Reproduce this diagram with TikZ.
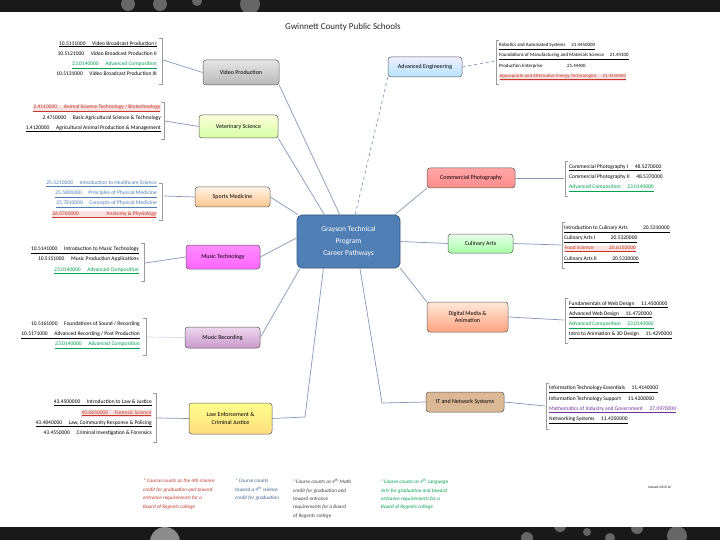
\documentclass[tikz,border=0pt]{standalone}
\usepackage{fontspec}
\setmainfont{Carlito}
\definecolor{lnk}{HTML}{8498B6}
\definecolor{brkc}{HTML}{9A9A9A}
\definecolor{cred}{HTML}{C0392B}
\definecolor{cgreen}{HTML}{00A050}
\definecolor{cblue}{HTML}{4F7FB5}
\definecolor{cpurple}{HTML}{7030A0}
\definecolor{cfoot}{HTML}{404040}
\definecolor{hlred}{HTML}{FBE0E0}
\setlength{\fboxsep}{0.4pt}
\newcommand\myul[1]{\underline{#1}}
\newcommand\rul[1]{{\color{cred}\colorbox{hlred}{\underline{#1}}}}
\newcommand\gul[1]{{\color{cgreen}\underline{#1}}}
\newcommand\bul[1]{{\color{cblue}\underline{#1}}}
\newcommand\pul[1]{{\color{cpurple}\underline{#1}}}
\newcommand\gp{\hspace{1.2em}}
\tikzset{
  box/.style={rounded corners=3pt, draw=black!65, line width=0.5pt,
    font=\fontsize{6}{7.5}\selectfont, align=center, inner sep=1pt},
  item/.style={font=\fontsize{5.5}{10.2}\selectfont, inner sep=0pt},
  lefti/.style={item, align=right, anchor=east},
  righti/.style={item, align=left, anchor=west},
  link/.style={draw=lnk, line width=0.7pt},
  brk/.style={draw=brkc, line width=0.5pt},
  foot/.style={font=\fontsize{5.2}{8.4}\selectfont\itshape, align=left, anchor=north west, inner sep=0pt},
  dot/.style={fill=black!60, draw=none}
}
\begin{document}
\begin{tikzpicture}[x=1pt,y=-1pt]
\useasboundingbox (0,0) rectangle (720,540);
\fill[white] (0,0) rectangle (720,540);
% top and bottom bands
\fill[black!90] (0,0) rectangle (720,12);
\fill[black!90] (0,527) rectangle (720,540);
\begin{scope}
\clip (0,0) rectangle (720,12);
\fill[dot] (128,4) circle (7);
\fill[dot] (160,4) circle (7);
\fill[dot] (197,1) circle (5);
\fill[dot] (250,4) circle (10);
\end{scope}
\begin{scope}
\clip (0,527) rectangle (720,540);
\fill[black!45] (165,542) circle (15);
\fill[dot] (527,538) circle (6);
\fill[dot] (560,526) circle (6);
\fill[dot] (587,532) circle (4);
\fill[dot] (610,538) circle (5);
\fill[dot] (637,528) circle (6);
\fill[dot] (677,536) circle (10);
\end{scope}

% title
\node[font=\fontsize{9}{10}\selectfont, text=black!85] (title) at (343,27) {Gwinnett County Public Schools};

% central node
\node[rounded corners=5pt, fill=cblue, draw=cblue!70!black, line width=0.7pt,
  minimum width=103pt, minimum height=53pt, text=white, align=center,
  font=\fontsize{7.5}{12}\selectfont] (center) at (348.5,241.5)
  {Grayson Technical\\Program\\Career Pathways};

% branch nodes
\node[box, top color=gray!20, bottom color=gray!55, minimum width=76pt, minimum height=25pt] (video) at (241,72.5) {Video Production};
\node[box, top color=green!10!yellow!15, bottom color=green!45!yellow!35, minimum width=79pt, minimum height=23pt] (vet) at (238.5,126.5) {Veterinary Science};
\node[box, top color=blue!6, bottom color=blue!35!cyan!30, minimum width=74pt, minimum height=20pt] (adveng) at (425,67) {Advanced Engineering};
\node[box, top color=orange!10, bottom color=orange!45, minimum width=75pt, minimum height=20pt] (sports) at (232.5,197) {Sports Medicine};
\node[box, top color=magenta!45, bottom color=magenta!60, minimum width=74pt, minimum height=24pt] (musictech) at (223,257) {Music Technology};
\node[box, top color=violet!15, bottom color=violet!40, minimum width=75pt, minimum height=21pt] (musicrec) at (222.5,337.5) {Music Recording};
\node[box, top color=yellow!45, bottom color=yellow!45!orange!50, minimum width=83pt, minimum height=31pt] (law) at (230.5,418.5) {Law Enforcement \&\\Criminal Justice};
\node[box, top color=red!35, bottom color=red!45, minimum width=88pt, minimum height=20pt] (photo) at (471,178) {Commercial Photography};
\node[box, top color=green!8, bottom color=green!35, minimum width=65pt, minimum height=19pt] (culinary) at (480.5,243.5) {Culinary Arts};
\node[box, top color=red!15!orange!15, bottom color=red!45!orange!50, minimum width=81pt, minimum height=30pt] (digital) at (467.5,317) {Digital Media \&\\Animation};
\node[box, fill=brown!55!white, minimum width=78pt, minimum height=20pt] (it) at (465,402) {IT and Network Systems};

% center connectors
\draw[link] (video.south east) -- (center.108);
\draw[link] (vet.south east) -- (center.132);
\draw[link, dashed] (adveng.south west) -- (center.76);
\draw[link] (sports.east) -- (center.152);
\draw[link] (musictech.east) -- (center.176);
\draw[link] (musicrec.east) -- (center.209);
\coordinate (lawbend) at (305,417);
\draw[link] (law.east) -- (lawbend) -- (center.227);
\draw[link] (photo.south west) -- (center.30);
\draw[link] (culinary.west) -- (center.east);
\draw[link] (digital.north west) -- (center.south east);
\coordinate (itbend) at (382,403);
\draw[link] (it.west) -- (itbend) -- (center.293);

% ---------- left text blocks ----------
\node[lefti] (tvideo) at (157,58.5) {\myul{10.5111000\gp Video Broadcast Production I}\\
10.5121000\gp Video Broadcast Production II\\
\gul{23.0140000\gp Advanced Composition}\\
10.5131000\gp Video Broadcast Production III};
\draw[brk] (159,38) -- (162,38) -- (162,84) -- (159,84);
\coordinate (bvideo) at (163,60);
\draw[link] (video.west) -- (bvideo);

\node[lefti] (tvet) at (161,118.5) {\rul{2.4110000\gp Animal Science Technology / Biotechnology}\\
2.4710000\gp Basic Agricultural Science \& Technology\\
\myul{1.4120000\gp Agricultural Animal Production \& Management}};
\draw[brk] (161,102) -- (164,102) -- (164,139) -- (161,139);
\coordinate (bvet) at (165,121);
\draw[link] (vet.west) -- (bvet);

\node[lefti] (tsports) at (157,199.5) {\bul{25.5210000\gp Introduction to Healthcare Science}\\
\bul{25.5800000\gp Principles of Physical Medicine}\\
\bul{25.7810000\gp Concepts of Physical Medicine}\\
\rul{26.0760000\hspace{5em}Anatomy \& Physiology}};
\draw[brk] (159,183) -- (162,183) -- (162,220) -- (159,220);
\coordinate (bsports) at (164,196);
\draw[link] (sports.west) -- (bsports);

\node[lefti] (tmusictech) at (139,260.5) {\myul{10.5141000\gp Introduction to Music Technology}\\
10.5151000\gp Music Production Applications\\
\gul{23.0140000\gp Advanced Composition}};
\draw[brk] (141,243) -- (144,243) -- (144,281) -- (141,281);
\coordinate (bmusictech) at (145,263);
\draw[link] (musictech.west) -- (bmusictech);

\node[lefti] (tmusicrec) at (140,335) {10.5161000\gp Foundations of Sound / Recording\\
\myul{10.5171000\gp Advanced Recording / Post Production}\\
\gul{23.0140000\gp Advanced Composition}};
\draw[brk] (143,318) -- (146,318) -- (146,355) -- (143,355);
\coordinate (bmusicrec) at (147,337);
\draw[link, draw=cyan!25!blue!15] (musicrec.west) -- (bmusicrec);

\node[lefti] (tlaw) at (152,417.8) {\myul{43.4500000\gp Introduction to Law \& Justice}\\
\rul{40.0650000\gp Forensic Science}\\
\myul{43.4840000\gp Law, Community Response \& Policing}\\
43.4550000\gp Criminal Investigation \& Forensics};
\draw[brk] (153,393) -- (156,393) -- (156,442) -- (153,442);
\coordinate (blaw) at (157,418);
\draw[link] (law.west) -- (blaw);

% ---------- right text blocks ----------
\node[righti, font=\fontsize{4.9}{10.2}\selectfont] (tadveng) at (499,62) {\myul{Robotics and Automated Systems\gp 21.4450000}\\
\myul{Foundations of Manufacturing and Materials Science\gp 21.44100}\\
Production Enterprise\hspace{5em}21.44400\\
\rul{Appropriate and Alternative Energy Technologies\gp 21.4420000}};
\draw[brk] (499,40) -- (496,40) -- (496,84) -- (499,84);
\coordinate (badveng) at (495,61);
\draw[link, dashed] (adveng.east) -- (badveng);

\node[righti] (tphoto) at (569,177.8) {\myul{Commercial Photography I\gp 48.5270000}\\
Commercial Photography II\gp 48.5370000\\
\gul{Advanced Composition\gp 23.0140000}};
\draw[brk] (568,161) -- (565,161) -- (565,196) -- (568,196);
\coordinate (bphoto) at (564,178);
\draw[link] (photo.east) -- (bphoto);

\node[righti] (tculinary) at (564,244.3) {\myul{Introduction to Culinary Arts\hspace{2.8em}20.5310000}\\
\myul{Culinary Arts I\hspace{2.8em}20.5320000}\\
\rul{Food Science\hspace{2.8em}20.6150000}\\
\myul{Culinary Arts II\hspace{2.8em}20.5330000}};
\draw[brk] (565,222) -- (562,222) -- (562,268) -- (565,268);
\coordinate (bculinary) at (561,245);
\draw[link] (culinary.east) -- (bculinary);

\node[righti] (tdigital) at (569,320) {\myul{Fundamentals of Web Design\gp 11.4500000}\\
\myul{Advanced Web Design\gp 11.4720000}\\
\gul{Advanced Composition\gp 23.0140000}\\
\myul{Intro to Animation \& 3D Design\gp 11.4290000}};
\draw[brk] (568,298) -- (565,298) -- (565,343) -- (568,343);
\coordinate (bdigital) at (564,320);
\draw[link] (digital.east) -- (bdigital);

\node[righti] (tit) at (549,404.7) {\myul{Information Technology Essentials\gp 11.4140000}\\
Information Technology Support\gp 11.4200000\\
\pul{Mathematics of Industry and Government\gp 27.0970000}\\
\myul{Networking Systems\gp 11.4350000}};
\draw[brk] (549,383) -- (546,383) -- (546,429) -- (549,429);
\coordinate (bit) at (545,406);
\draw[link] (it.east) -- (bit);

% ---------- footnotes ----------
\node[foot, text=cred] (f1) at (143,479) {* Course counts as the 4th science\\credit for graduation and toward\\entrance requirements for a\\Board of Regents college};
\node[foot, text=cblue!80!black] (f2) at (235,479) {* Course counts\\toward a 4\textsuperscript{th} science\\credit for graduation};
\node[foot, text=cfoot] (f3) at (293,479) {*Course counts as 4\textsuperscript{th} Math\\credit for graduation and\\toward entrance\\requirements for a Board\\of Regents college};
\node[foot, text=cgreen] (f4) at (381,479) {*Course counts as 4\textsuperscript{th} Language\\Arts for graduation and toward\\entrance requirements for a\\Board of Regents college};
\node[font=\fontsize{3.5}{4}\selectfont, anchor=west, inner sep=0pt] (rev) at (648,487) {revised 10/3/12};
\end{tikzpicture}
\end{document}
